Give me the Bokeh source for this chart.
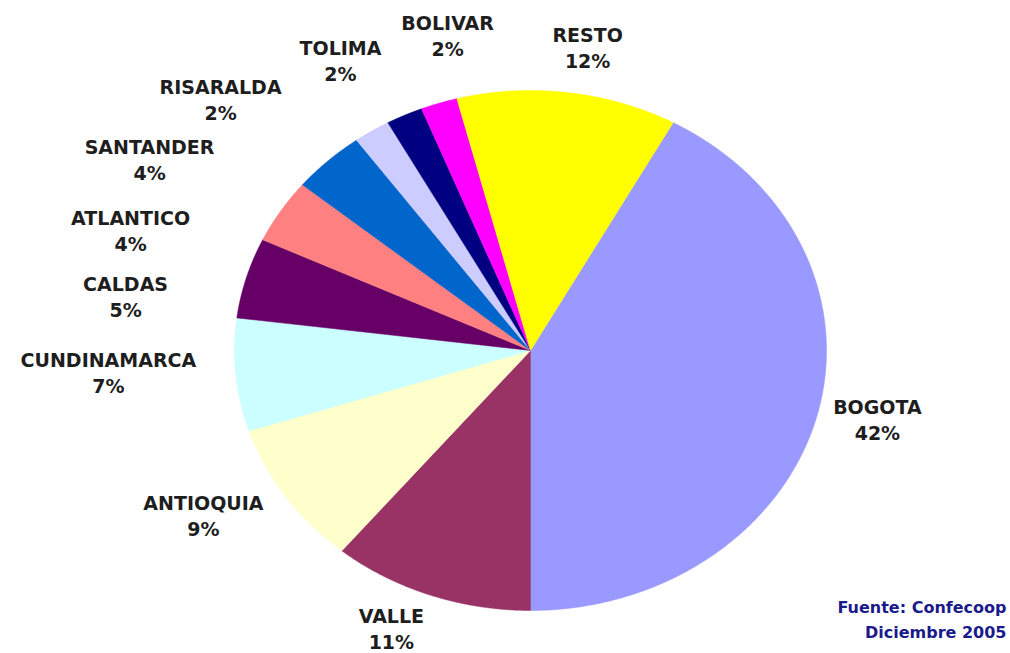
import numpy as np
from bokeh.plotting import figure
from bokeh.models import Range1d, ColumnDataSource
from bokeh.core.properties import value
from bokeh.embed import file_html
from bokeh.resources import INLINE

# ---- data ----
regions = ["BOGOTA", "VALLE", "ANTIOQUIA", "CUNDINAMARCA", "CALDAS", "ATLANTICO",
           "SANTANDER", "RISARALDA", "TOLIMA", "BOLIVAR", "RESTO"]
shares = [42, 11, 9, 7, 5, 4, 4, 2, 2, 2, 12]
colors = ["#9999FF", "#993366", "#FFFFCC", "#CCFFFF", "#660066", "#FF8080",
          "#0066CC", "#CCCCFF", "#000080", "#FF00FF", "#FFFF00"]
source_lines = ["Fuente: Confecoop", "Diciembre 2005"]

# ---- layout (pie units: 1 = radius) ----
first_slice_angle = 28.8  # degrees clockwise from 12 o'clock
label_centers = [(1.172, -0.269), (-0.47, -1.07), (-1.105, -0.635), (-1.426, -0.085),
                 (-1.368, 0.204), (-1.351, 0.458), (-1.287, 0.731), (-1.047, 0.962),
                 (-0.642, 1.112), (-0.28, 1.208), (0.193, 1.165)]

W, H = 1010, 653
cx, cy = 530, 350          # centre in canvas px (from top-left)
rx, ry = 296, 260          # radii in px

p = figure(width=W, height=H, output_backend="svg", toolbar_location=None,
           x_range=Range1d(-cx / rx, (W - cx) / rx),
           y_range=Range1d(-(H - cy) / ry, cy / ry),
           min_border=0, outline_line_color=None)
p.axis.visible = False
p.grid.visible = False
p.background_fill_color = "white"
p.border_fill_color = "white"

total = float(sum(shares))
cum = np.concatenate([[0], np.cumsum(shares)]) / total * 360.0
xs, ys = [], []
for i in range(len(shares)):
    a0 = first_slice_angle + cum[i]
    a1 = first_slice_angle + cum[i + 1]
    t = np.radians(np.linspace(a0, a1, 200))
    xs.append(np.concatenate([[0.0], np.sin(t), [0.0]]).tolist())
    ys.append(np.concatenate([[0.0], np.cos(t), [0.0]]).tolist())

src = ColumnDataSource(dict(xs=xs, ys=ys, color=colors, region=regions))
p.patches("xs", "ys", fill_color="color", line_color="color", line_width=0.5, source=src)

line_gap = 13 / ry
lx = [c[0] for c in label_centers]
name_y = [c[1] + line_gap for c in label_centers]
pct_y = [c[1] - line_gap for c in label_centers]
pct_txt = [f"{s}%" for s in shares]

p.text(x=lx, y=name_y, text=regions, text_align="center", text_baseline="middle",
       text_font=value("DejaVu Sans"), text_font_style="bold", text_font_size="19px",
       text_color="#1e1e1e")
p.text(x=lx, y=pct_y, text=pct_txt, text_align="center", text_baseline="middle",
       text_font=value("DejaVu Sans"), text_font_style="bold", text_font_size="19px",
       text_color="#1e1e1e")

fx = (1006 - cx) / rx
fy = [(cy - 607) / ry, (cy - 632) / ry]
p.text(x=[fx, fx], y=fy, text=source_lines, text_align="right", text_baseline="middle",
       text_font=value("DejaVu Sans"), text_font_style="bold", text_font_size="16px",
       text_color="#1a1a8c")

open("out.html", "w").write(file_html(p, INLINE))
